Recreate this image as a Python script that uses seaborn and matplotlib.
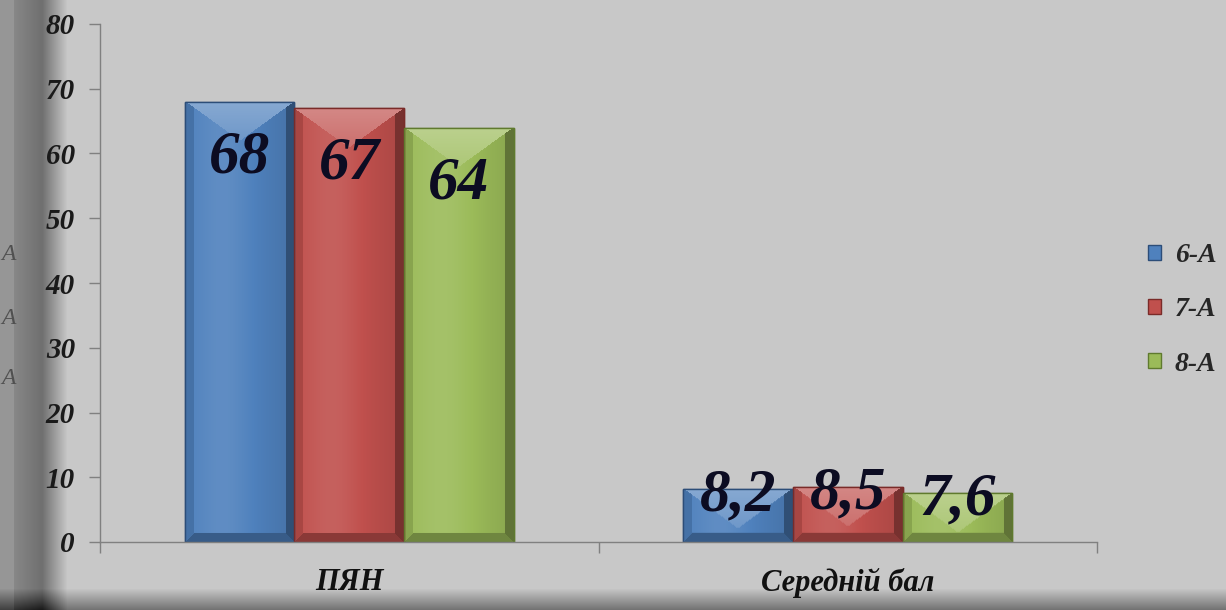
import numpy as np
import pandas as pd
import matplotlib
matplotlib.use("Agg")
import matplotlib.pyplot as plt
import matplotlib.colors as mcolors
import seaborn as sns

categories = ["ПЯН", "Середній бал"]
classes = ["6-А", "7-А", "8-А"]
values_6a = [68, 8.2]
values_7a = [67, 8.5]
values_8a = [64, 7.6]
labels_6a = ["68", "8,2"]
labels_7a = ["67", "8,5"]
labels_8a = ["64", "7,6"]
yticks = [0, 10, 20, 30, 40, 50, 60, 70, 80]
colors = ["#4F81BD", "#C0504D", "#9BBB59"]
edge_colors = ["#2c4d78", "#7a2b29", "#5f7a2e"]

df = pd.DataFrame({
    "cat": categories * 3,
    "cls": [c for c in classes for _ in categories],
    "val": values_6a + values_7a + values_8a,
    "lab": labels_6a + labels_7a + labels_8a,
})

sns.set_theme(style="white")
plt.rcParams["font.family"] = ["Liberation Serif", "DejaVu Serif"]

W, H = 1226, 610
fig = plt.figure(figsize=(W / 100, H / 100), dpi=100)

# background with dark slide border
bg = fig.add_axes([0, 0, 1, 1], zorder=-10)
base = 200.0
colprof = np.full(W, base)
colprof[:14] = 150
colprof[14:42] = np.linspace(135, 112, 28)
colprof[42:68] = np.linspace(112, base, 26)
rowprof = np.zeros(H)
rowprof[588:] = np.linspace(0, 85, H - 588)
img = np.minimum(colprof[None, :], base) - rowprof[:, None]
img = np.clip(img, 0, 255) / 255.0
bg.imshow(np.dstack([img, img, img]), aspect="auto", extent=[0, 1, 0, 1])
bg.set_axis_off()

ax = fig.add_axes([100 / W, 1 - 542 / H, (1097 - 100) / W, (542 - 24) / H])
ax.set_facecolor("none")

sns.barplot(data=df, x="cat", y="val", hue="cls", hue_order=classes,
            palette=colors, width=0.66, gap=0, ax=ax, saturation=1,
            legend=True)

ax.set_xlim(-0.5, 1.5)
ax.set_ylim(0, 80)
fig.canvas.draw()

# bevelled bar faces, computed from each bar's own geometry
for ci, cont in enumerate(ax.containers):
    basec = np.array(mcolors.to_rgb(colors[ci]))
    for p in cont.patches:
        p.set_edgecolor(edge_colors[ci])
        p.set_linewidth(1.0)
        x0, y0 = p.get_x(), p.get_y()
        x1, y1 = x0 + p.get_width(), y0 + p.get_height()
        (px0, py0), (px1, py1) = ax.transData.transform([(x0, y0), (x1, y1)])
        wpx = max(int(round(px1 - px0)), 2)
        hpx = max(int(round(py1 - py0)), 2)
        xx, yy = np.meshgrid(np.arange(wpx) + 0.5, np.arange(hpx) + 0.5)
        dl, dr = xx, wpx - xx
        dt, db = yy, hpx - yy
        out = np.zeros((hpx, wpx, 3))
        u = xx / wpx
        fin = 1.0 + 0.10 * np.exp(-((u - 0.35) / 0.25) ** 2) - 0.12 * u ** 3
        for k in range(3):
            out[..., k] = np.where(fin >= 1, basec[k] + (1 - basec[k]) * (fin - 1), basec[k] * fin)
        side = 9
        top_depth = 40
        kslope = 0.72
        top_face = (dt < top_depth) & (dt < kslope * np.minimum(dl, dr))
        left_face = (dl < side) & ~top_face
        right_face = (dr < side) & ~top_face
        bot_face = (db < side) & (db < dl) & (db < dr)
        tgrad = 1.32 - 0.14 * (dt / top_depth)
        for k in range(3):
            ch = out[..., k]
            ch = np.where(left_face, basec[k] * 0.88, ch)
            ch = np.where(right_face, basec[k] * 0.62, ch)
            ch = np.where(bot_face, basec[k] * 0.72, ch)
            ch = np.where(top_face, basec[k] + (1 - basec[k]) * (tgrad - 1), ch)
            out[..., k] = ch
        im = ax.imshow(np.clip(out, 0, 1), extent=[x0, x1, y0, y1], aspect="auto",
                       origin="upper", zorder=p.get_zorder() + 0.1, interpolation="bilinear")
        im.set_clip_path(p)
        edge = plt.Rectangle((x0, y0), p.get_width(), p.get_height(), fill=False,
                             edgecolor=edge_colors[ci], linewidth=1.0,
                             zorder=p.get_zorder() + 0.2)
        ax.add_patch(edge)

# value labels
fp = dict(fontsize=44, fontweight="bold", fontstyle="italic", color="#0c0c22")
for ci, cont in enumerate(ax.containers):
    labs = df[df["cls"] == classes[ci]]["lab"].tolist()
    for j, p in enumerate(cont.patches):
        xc = p.get_x() + p.get_width() / 2
        top = p.get_height()
        off = -40 if j == 0 else -5
        ax.annotate(labs[j], (xc, top), xytext=(0, off), textcoords="offset points",
                    ha="center", va="center", zorder=10, **fp)

ax.set_xlim(-0.5, 1.5)
ax.set_ylim(0, 80)
ax.set_yticks(yticks)
ax.set_yticklabels([str(t) for t in yticks], fontsize=21, fontweight="bold",
                   fontstyle="italic", color="#1a1a1a")
ax.set_xticks([0, 1])
ax.set_xticklabels(categories, fontsize=22, fontweight="bold", fontstyle="italic",
                   color="#111111")
ax.set_xticks([-0.5, 0.5, 1.5], minor=True)
ax.tick_params(axis="x", which="major", length=0, pad=19, bottom=True)
ax.tick_params(axis="x", which="minor", length=8, width=1, color="#808080",
               direction="out", bottom=True)
ax.tick_params(axis="y", which="major", length=8, width=1, color="#808080",
               direction="out", pad=10, left=True)
ax.set_xlabel("")
ax.set_ylabel("")
for s in ["top", "right"]:
    ax.spines[s].set_visible(False)
for s in ["left", "bottom"]:
    ax.spines[s].set_color("#808080")
    ax.spines[s].set_linewidth(1)

# legend
handles, lbls = ax.get_legend_handles_labels()
ax.legend_.remove()
for h, ec in zip(handles, edge_colors):
    h.set_edgecolor(ec)
    h.set_linewidth(1.0)
fig.legend(handles, lbls, loc="center left", bbox_to_anchor=(1126 / W, 1 - 310 / H),
           frameon=False, handlelength=0.45, handleheight=0.45, handletextpad=0.5,
           labelspacing=1.05, borderpad=0.3, prop=dict(family="Liberation Serif", size=20,
                                        weight="bold", style="italic"))

# letters at the left edge (tail of another caption)
for yy in [255, 318, 378]:
    fig.text(1 / W, 1 - yy / H, "А", fontsize=17, fontstyle="italic",
             color="#505050", va="center", ha="left")

fig.savefig("out.png", dpi=100)
